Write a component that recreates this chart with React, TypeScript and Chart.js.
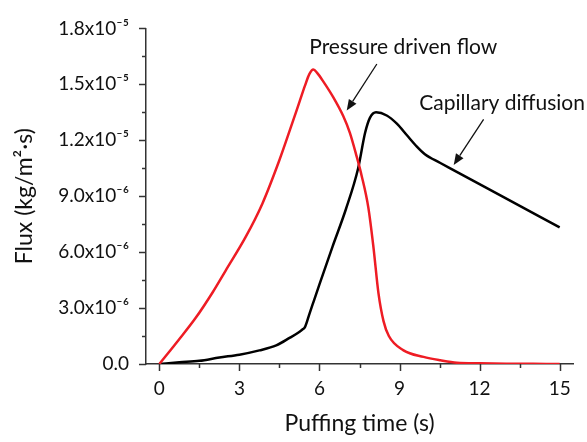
import React, { useEffect, useRef } from "react";
import { Chart, registerables } from "chart.js";

Chart.register(...registerables);

// Pressure driven flow (red), flux in 1e-6 kg/m2·s
const redTime = [0, 0.7, 1.35, 2.0, 2.48, 3.23, 3.86, 4.49, 4.89, 5.26, 5.45, 5.62, 5.77, 5.92, 6.14, 6.52, 6.89, 7.14, 7.39, 7.58, 7.83, 8.02, 8.21, 8.4, 8.6, 9.15, 9.9, 10.53, 11.15, 12, 13, 14, 15];
const redFlux = [0, 1.25, 2.45, 3.85, 5.0, 6.8, 8.6, 10.9, 12.54, 14.1, 14.9, 15.55, 15.8, 15.6, 15.16, 14.3, 13.3, 12.4, 11.15, 10.1, 8.4, 6.3, 3.8, 2.3, 1.5, 0.73, 0.38, 0.2, 0.07, 0.04, 0.02, 0.01, 0];

// Capillary diffusion (black), flux in 1e-6 kg/m2·s
const blackTime = [0, 0.75, 1.5, 2.25, 3.0, 3.75, 4.38, 4.88, 5.2, 5.35, 5.45, 5.64, 5.79, 5.99, 6.49, 6.99, 7.45, 7.71, 7.89, 8.12, 8.52, 8.9, 9.27, 9.65, 9.95, 10.53, 10.9, 12.9, 15];
const blackFlux = [0, 0.09, 0.17, 0.35, 0.5, 0.73, 1.0, 1.4, 1.68, 1.84, 1.96, 2.76, 3.39, 4.23, 6.3, 8.3, 10.5, 12.4, 13.2, 13.5, 13.33, 12.89, 12.28, 11.66, 11.25, 10.78, 10.49, 8.95, 7.33];

const SCALE = 1e-6;

// tick labels
const xTickValues = [0, 3, 6, 9, 12, 15];
const yTickLabels = ["0.0", "3.0x10⁻⁶", "6.0x10⁻⁶", "9.0x10⁻⁶", "1.2x10⁻⁵", "1.5x10⁻⁵", "1.8x10⁻⁵"];
const yTickValues = [0, 3e-6, 6e-6, 9e-6, 1.2e-5, 1.5e-5, 1.8e-5];

// annotations (data coordinates)
const annotationTexts = ["Pressure driven flow", "Capillary diffusion"];
const annotationTextPos = [[9.14, 17.0e-6], [9.74, 14.0e-6]];
const annotationAlign = ["center", "left"];
const arrowFrom = [[8.15, 16.09e-6], [12.15, 13.12e-6]];
const arrowTo = [[7.02, 13.59e-6], [11.03, 10.68e-6]];

const FONT = "Lato, 'Open Sans', sans-serif";
const AXIS_COLOR = "#333333";

const tickMarksPlugin = {
  id: "tickMarks",
  afterDraw(chart: any) {
    const ctx = chart.ctx;
    const xs = chart.scales.x;
    const ys = chart.scales.y;
    const area = chart.chartArea;
    ctx.save();
    ctx.strokeStyle = AXIS_COLOR;
    ctx.lineWidth = 1.5;
    for (let i = 0; i <= 10; i++) {
      const v = i * 1.5;
      const major = i % 2 === 0;
      const px = Math.round(xs.getPixelForValue(v)) + 0.5;
      ctx.beginPath();
      ctx.moveTo(px, area.bottom);
      ctx.lineTo(px, area.bottom + (major ? 7 : 4));
      ctx.stroke();
    }
    for (let i = 0; i <= 12; i++) {
      const v = i * 1.5e-6;
      const major = i % 2 === 0;
      const py = Math.round(ys.getPixelForValue(v)) + 0.5;
      ctx.beginPath();
      ctx.moveTo(area.left, py);
      ctx.lineTo(area.left - (major ? 7 : 4), py);
      ctx.stroke();
    }
    ctx.restore();
  },
};

const annotationPlugin = {
  id: "annotations",
  afterDraw(chart: any) {
    const ctx = chart.ctx;
    const xs = chart.scales.x;
    const ys = chart.scales.y;
    ctx.save();
    ctx.fillStyle = "#111";
    ctx.font = `21px ${FONT}`;
    ctx.textBaseline = "middle";
    annotationTexts.forEach((t, i) => {
      ctx.textAlign = annotationAlign[i] as CanvasTextAlign;
      ctx.fillText(t, xs.getPixelForValue(annotationTextPos[i][0]), ys.getPixelForValue(annotationTextPos[i][1]));
    });
    ctx.strokeStyle = "#111";
    ctx.lineWidth = 1.3;
    arrowFrom.forEach((f, i) => {
      const x1 = xs.getPixelForValue(f[0]);
      const y1 = ys.getPixelForValue(f[1]);
      const x2 = xs.getPixelForValue(arrowTo[i][0]);
      const y2 = ys.getPixelForValue(arrowTo[i][1]);
      const ang = Math.atan2(y2 - y1, x2 - x1);
      const hl = 11;
      const hw = 4.5;
      const bx = x2 - hl * Math.cos(ang);
      const by = y2 - hl * Math.sin(ang);
      ctx.beginPath();
      ctx.moveTo(x1, y1);
      ctx.lineTo(bx, by);
      ctx.stroke();
      ctx.beginPath();
      ctx.moveTo(x2, y2);
      ctx.lineTo(bx + hw * Math.sin(ang), by - hw * Math.cos(ang));
      ctx.lineTo(bx - hw * Math.sin(ang), by + hw * Math.cos(ang));
      ctx.closePath();
      ctx.fillStyle = "#111";
      ctx.fill();
    });
    ctx.restore();
  },
};

export default function App() {
  const ref = useRef<HTMLCanvasElement | null>(null);

  useEffect(() => {
    if (!ref.current) return;
    const chart = new Chart(ref.current, {
      type: "line",
      data: {
        datasets: [
          {
            label: "Pressure driven flow",
            data: redTime.map((t, i) => ({ x: t, y: redFlux[i] * SCALE })),
            borderColor: "#ee1c24",
            borderWidth: 2.5,
            pointRadius: 0,
            cubicInterpolationMode: "monotone",
            fill: false,
          },
          {
            label: "Capillary diffusion",
            data: blackTime.map((t, i) => ({ x: t, y: blackFlux[i] * SCALE })),
            borderColor: "#000000",
            borderWidth: 2.5,
            pointRadius: 0,
            cubicInterpolationMode: "monotone",
            fill: false,
          },
        ],
      },
      options: {
        responsive: false,
        animation: false,
        devicePixelRatio: 1,
        layout: { padding: { top: 21, right: 14, left: 0, bottom: 0 } },
        plugins: { legend: { display: false }, tooltip: { enabled: false } },
        scales: {
          x: {
            type: "linear",
            min: -0.5,
            max: 15.5,
            afterFit: (s: any) => {
              s.height = 78;
            },
            afterBuildTicks: (s: any) => {
              s.ticks = xTickValues.map((v) => ({ value: v }));
            },
            grid: { display: false, drawTicks: false },
            border: { display: true, color: AXIS_COLOR, width: 1.5 },
            ticks: {
              color: "#111",
              font: { family: FONT, size: 19 },
              padding: 13,
              maxRotation: 0,
              autoSkip: false,
              callback: (v: any) => String(v),
            },
            title: {
              display: true,
              text: "Puffing time (s)",
              color: "#111",
              font: { family: FONT, size: 23 },
              padding: { top: 0, bottom: 5 },
            },
          },
          y: {
            type: "linear",
            min: 0,
            max: 1.8e-5,
            afterFit: (s: any) => {
              s.width = 146;
            },
            afterBuildTicks: (s: any) => {
              s.ticks = yTickValues.map((v) => ({ value: v }));
            },
            grid: { display: false, drawTicks: false },
            border: { display: true, color: AXIS_COLOR, width: 1.5 },
            ticks: {
              color: "#111",
              font: { family: FONT, size: 19 },
              padding: 17,
              autoSkip: false,
              callback: (v: any, i: number) => yTickLabels[i],
            },
            title: {
              display: true,
              text: "Flux (kg/m²·s)",
              color: "#111",
              font: { family: FONT, size: 23 },
              padding: { top: 11, bottom: 0 },
            },
          },
        },
      },
      plugins: [tickMarksPlugin, annotationPlugin],
    });
    return () => chart.destroy();
  }, []);

  return (
    <div style={{ position: "fixed", left: 0, top: 0, width: 587, height: 442, background: "#fff" }}>
      <canvas ref={ref} width={587} height={442} />
    </div>
  );
}
